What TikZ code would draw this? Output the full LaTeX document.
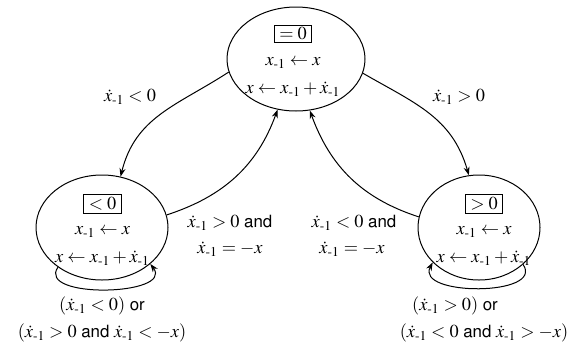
\documentclass[tikz,border=0pt]{standalone}
\usepackage[T1]{fontenc}
\usepackage{mathptmx}
\usepackage[scaled=.92]{helvet}
\usepackage{amsmath}
\usetikzlibrary{shapes.geometric,arrows.meta}
\newcommand{\mo}{\text{-}1}
\newcommand{\xd}{\dot{x}_{\mo}}
\newcommand{\xm}{x_{\mo}}
\begin{document}
\begin{tikzpicture}[x=0.6pt,y=-0.6pt,
  state/.style={draw, ellipse, line width=0.6pt, inner sep=0pt},
  txt/.style={inner sep=0pt, font=\fontsize{11}{13}\selectfont},
  cond/.style={draw, line width=0.6pt, inner xsep=3pt, inner ysep=1.6pt, font=\fontsize{11}{13}\selectfont},
  arr/.style={-{Stealth[length=5pt,width=3.6pt]}, line width=0.6pt},
  lbl/.style={inner sep=0pt, font=\fontsize{11}{13}\selectfont}]
\useasboundingbox (0,0) rectangle (575,345);
% states
\node[state, minimum width=82.8pt, minimum height=62.4pt] (top) at (296,59) {};
\node[cond] (topc) at (293,34) {$=0$};
\node[txt] (top1) at (293,63) {$\xm \leftarrow x$};
\node[txt] (top2) at (293,89) {$x \leftarrow \xm + \xd$};

\node[state, minimum width=79.2pt, minimum height=63pt] (left) at (102,227.5) {};
\node[cond] (leftc) at (102.5,204) {$<0$};
\node[txt] (left1) at (102.5,232) {$\xm \leftarrow x$};
\node[txt] (left2) at (102.5,258) {$x \leftarrow \xm + \xd$};

\node[state, minimum width=73.2pt, minimum height=63pt] (right) at (479,227.5) {};
\node[cond] (rightc) at (484,204) {$>0$};
\node[txt] (right1) at (484,232) {$\xm \leftarrow x$};
\node[txt] (right2) at (484,258) {$x \leftarrow \xm + \xd$};

% transitions
\draw[arr] (top.191) to[out=213,in=76,looseness=1.05] (left.70);
\draw[arr] (left.11) to[out=18,in=250] (top.250);
\draw[arr] (right.170) to[out=162,in=290] (top.285);
\draw[arr] (top.348) to[out=-30,in=106,looseness=1.05] (right.101);
\draw[arr] (left.222) .. controls +(-22,32) and +(24,32) .. (left.323);
\draw[arr] (right.320) .. controls +(22,32) and +(-18,34) .. (right.217);

% labels
\node[lbl] (l1) at (130,97) {$\xd < 0$};
\node[lbl] (l2) at (459,97) {$\xd > 0$};
\node[lbl] (l3a) at (230,223) {$\xd > 0$ \textsf{and}};
\node[lbl] (l3b) at (230,249) {$\xd = -x$};
\node[lbl] (l4a) at (354,223) {$\xd < 0$ \textsf{and}};
\node[lbl] (l4b) at (352,249) {$\xd = -x$};
\node[lbl] (l5a) at (102,306) {$(\xd < 0)$ \textsf{or}};
\node[lbl] (l5b) at (102,333) {$(\xd > 0$ \textsf{and} $\xd < -x)$};
\node[lbl] (l6a) at (455,306) {$(\xd > 0)$ \textsf{or}};
\node[lbl] (l6b) at (484,333) {$(\xd < 0$ \textsf{and} $\xd > -x)$};
\end{tikzpicture}
\end{document}
